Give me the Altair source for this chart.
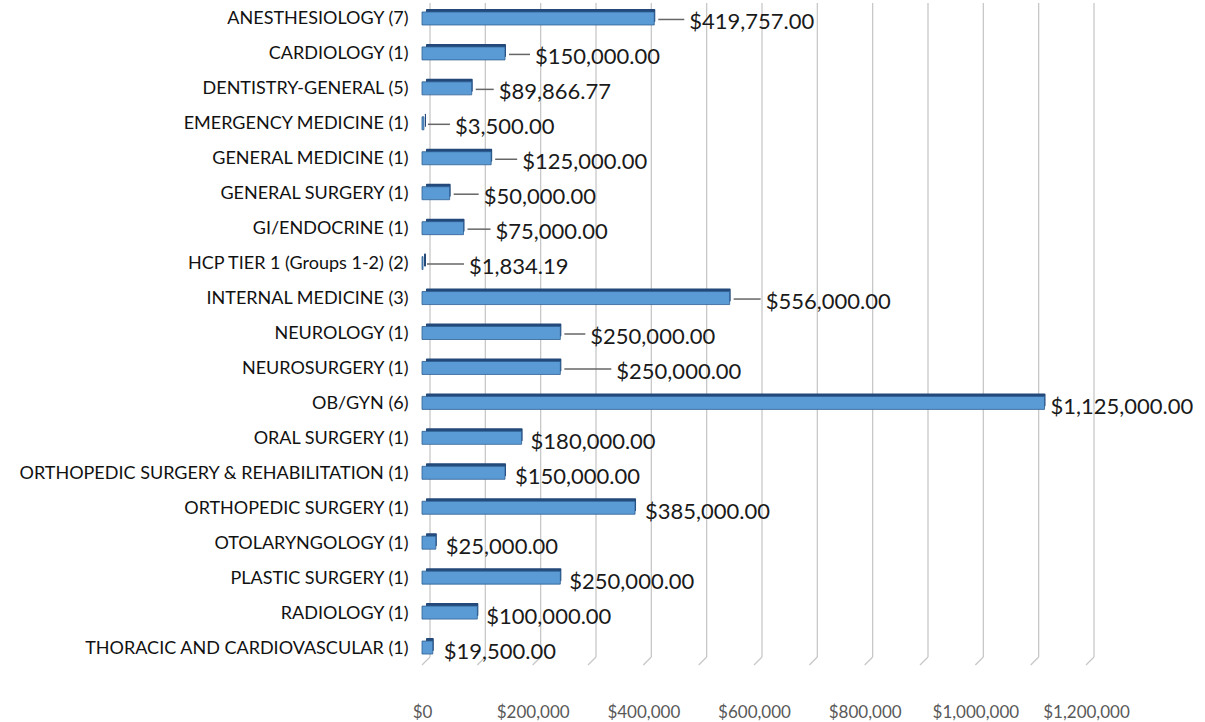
import altair as alt
import pandas as pd

categories = [
    "ANESTHESIOLOGY (7)",
    "CARDIOLOGY (1)",
    "DENTISTRY-GENERAL (5)",
    "EMERGENCY MEDICINE (1)",
    "GENERAL MEDICINE (1)",
    "GENERAL SURGERY (1)",
    "GI/ENDOCRINE (1)",
    "HCP TIER 1 (Groups 1-2) (2)",
    "INTERNAL MEDICINE (3)",
    "NEUROLOGY (1)",
    "NEUROSURGERY (1)",
    "OB/GYN (6)",
    "ORAL SURGERY (1)",
    "ORTHOPEDIC SURGERY & REHABILITATION (1)",
    "ORTHOPEDIC SURGERY (1)",
    "OTOLARYNGOLOGY (1)",
    "PLASTIC SURGERY (1)",
    "RADIOLOGY (1)",
    "THORACIC AND CARDIOVASCULAR (1)",
]
values = [
    419757.00, 150000.00, 89866.77, 3500.00, 125000.00, 50000.00, 75000.00,
    1834.19, 556000.00, 250000.00, 250000.00, 1125000.00, 180000.00,
    150000.00, 385000.00, 25000.00, 250000.00, 100000.00, 19500.00,
]
# gap (px) between bar end and its data label (leader-line length)
leader_px = [35, 30, 27, 31, 31, 34, 32, 46, 36, 30, 56, 6, 9, 10, 10, 10, 9, 9, 11]

tick_values = [0, 200000, 400000, 600000, 800000, 1000000, 1200000]
grid_values = [0, 100000, 200000, 300000, 400000, 500000, 600000, 700000,
               800000, 900000, 1000000, 1100000, 1200000]

W, H = 664, 664
XMAX = 1200000
px = XMAX / W

df = pd.DataFrame({"cat": categories, "value": values, "gap": leader_px})
df["label"] = df["value"].map(lambda v: f"${v:,.2f}")
df["label_x"] = df["value"] + df["gap"] * px
df["lead_start"] = df["value"] + 4 * px
df["lead_end"] = df["label_x"] - 5 * px
lead_df = df[df["gap"] > 20]

xscale = alt.Scale(domain=[0, XMAX], nice=False, zero=True)
yscale = alt.Scale(domain=categories, paddingInner=0, paddingOuter=0)

xaxis = alt.Axis(values=tick_values, format="$,.0f", grid=False, domain=False,
                 ticks=False, labelPadding=40, labelOverlap=False, labelFlush=False,
                 title=None)
yaxis = alt.Axis(domain=False, ticks=False, labelPadding=14, labelLimit=600,
                 labelOffset=2, title=None)


def X(field):
    return alt.X(field, scale=xscale, axis=xaxis, title=None)


def Y(band=None):
    if band is None:
        return alt.Y("cat:N", scale=yscale, axis=yaxis, sort=categories, title=None)
    return alt.Y("cat:N", scale=yscale, axis=yaxis, sort=categories, title=None,
                 bandPosition=band)


grid_df = pd.DataFrame({"g": grid_values})
gcol = "#C8C8C8"
grid = alt.Chart(grid_df).mark_rule(color=gcol, strokeWidth=1.3, xOffset=8).encode(
    x=X("g:Q"),
    y=alt.value(3), y2=alt.value(657),
)
foot = alt.Chart(grid_df).mark_rule(color=gcol, strokeWidth=1.3, xOffset=8, x2Offset=0).encode(
    x=X("g:Q"),
    x2="g:Q",
    y=alt.value(657), y2=alt.value(665),
)

back = alt.Chart(df).mark_bar(
    color="#23497A", height=13, yOffset=-2, xOffset=1, x2Offset=4, cornerRadius=1
).encode(
    x=X("value:Q"),
    x2=alt.X2(datum=0),
    y=Y(),
)

front = alt.Chart(df).mark_bar(
    color="#5B9BD5", stroke="#2F5F93", strokeWidth=0.8, height=13, yOffset=1
).encode(
    x=X("value:Q"),
    x2=alt.X2(datum=0),
    y=Y(),
)

leaders = alt.Chart(lead_df).mark_rule(color="#666666", strokeWidth=1.5, yOffset=2).encode(
    x=X("lead_start:Q"),
    x2="lead_end:Q",
    y=Y(0.5),
)

labels = alt.Chart(df).mark_text(
    align="left", baseline="middle", font="Lato", fontSize=22, color="#1a1a1a", dy=5
).encode(
    x=X("label_x:Q"),
    y=Y(0.5),
    text="label:N",
)

chart = alt.layer(grid, foot, back, front, leaders, labels).properties(
    width=W, height=H,
    autosize=alt.AutoSizeParams(type="none"),
    padding={"left": 422, "right": 119, "top": 0, "bottom": 58},
    background="white",
).configure_view(stroke=None).configure_axisX(
    labelFont="Lato", labelFontSize=17, labelColor="#595959"
).configure_axisY(
    labelFont="Lato", labelFontSize=18, labelColor="#111111"
)

chart.save("out.html", embed_options={"renderer": "svg", "actions": False})
